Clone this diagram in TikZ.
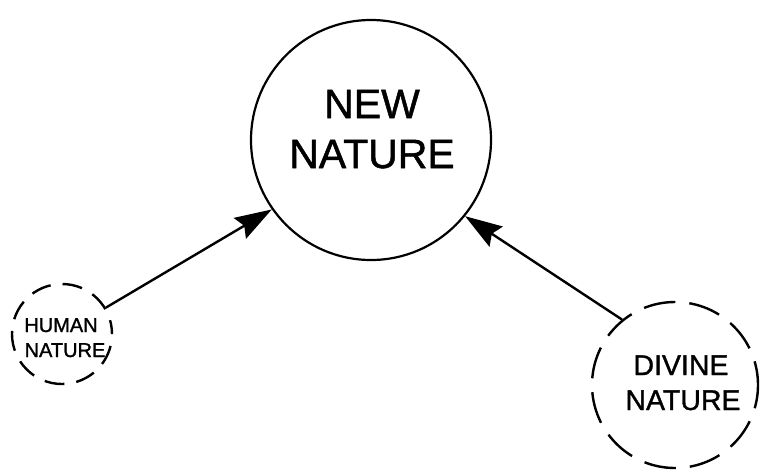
\documentclass[tikz,border=0pt]{standalone}
\usepackage{fontspec}
\setmainfont[FakeBold=1.2]{Liberation Sans}
\usetikzlibrary{arrows.meta}
\begin{document}
\begin{tikzpicture}[x=1pt,y=-1pt,
  solidring/.style={circle,draw=black,line width=2.2pt,inner sep=0pt},
  dashring/.style={circle,draw=black,line width=2.4pt,inner sep=0pt},
  lbl/.style={anchor=base,inner sep=0pt},
  arr/.style={draw=black,line width=2.4pt,-{Stealth[length=37pt,width=24pt,inset=5pt]}}]
\useasboundingbox[fill=white] (0,0) rectangle (762,472);
% circles
\node[solidring,minimum size=240pt] (new) at (371,140) {};
\node[dashring,minimum size=100pt,dash pattern=on 20pt off 12pt,dash phase=6pt] (human) at (62,334) {};
\node[dashring,minimum size=166pt,dash pattern=on 32pt off 14pt,dash phase=8pt] (divine) at (675,385) {};
% labels
\node[lbl,font=\fontsize{41}{41}\selectfont] (n1) at (372,118) {NEW};
\node[lbl,font=\fontsize{41}{41}\selectfont] (n2) at (372,168) {NATURE};
\node[lbl,font=\fontsize{20}{20}\selectfont] (h1) at (61,332) {HUMAN};
\node[lbl,font=\fontsize{20}{20}\selectfont] (h2) at (65,357) {NATURE};
\node[lbl,font=\fontsize{28.5}{28.5}\selectfont] (d1) at (681,375) {DIVINE};
\node[lbl,font=\fontsize{28.5}{28.5}\selectfont] (d2) at (683,410) {NATURE};
% arrows
\draw[arr] (human.31) -- (new.215.5);
\draw[arr] (divine.129) -- (new.321);
\end{tikzpicture}
\end{document}
